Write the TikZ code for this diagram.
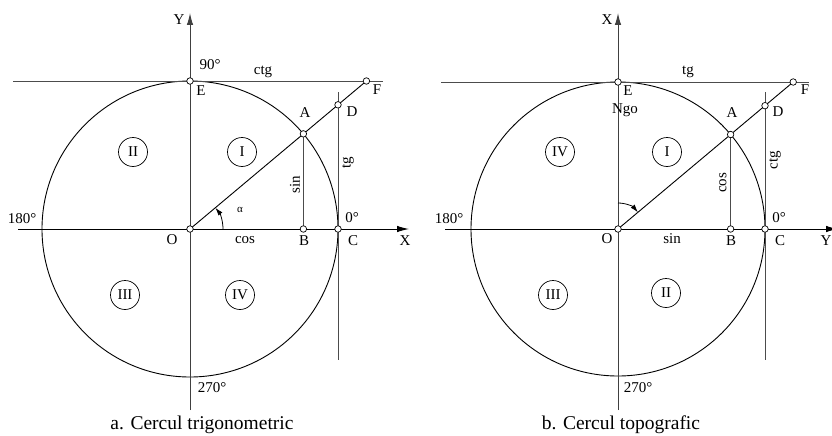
\documentclass[tikz,border=0pt]{standalone}
\usepackage{fontspec}
\setmainfont{Liberation Serif}
\usetikzlibrary{arrows.meta,calc}
\begin{document}
\begin{tikzpicture}[x=1pt,y=-1pt,
  lbl/.style={font=\fontsize{15}{15}\selectfont, inner sep=0pt},
  captxt/.style={font=\fontsize{19.5}{19.5}\selectfont, inner sep=0pt},
  quad/.style={draw, circle, minimum size=29pt, inner sep=0pt, font=\fontsize{15}{15}\selectfont, line width=0.7pt},
  pt/.style={draw, circle, fill=white, minimum size=6.5pt, inner sep=0pt, line width=0.7pt,
    path picture={\fill (path picture bounding box.center) circle (0.8pt);}},
  axis/.style={line width=1pt, -{Latex[length=12pt,width=6.5pt]}},
  gline/.style={line width=0.9pt, draw=black!70},
  bline/.style={line width=0.9pt, draw=black},
  arcarrow/.style={line width=0.8pt, -{Latex[length=8pt,width=5pt]}}
]
\useasboundingbox (0,0) rectangle (832,436);

% ================= left figure =================
\coordinate (O1) at (190,229);
\coordinate (A1) at ($(O1)+(-40:148)$);
\coordinate (B1) at (A1 |- O1);
\coordinate (C1) at (338,229);
\coordinate (D1) at (338,104.8);
\coordinate (E1) at (190,81);
\coordinate (F1) at (366.4,81);
\coordinate (TL1) at (13,81);
\coordinate (TR1) at (383,81);
\coordinate (XL1) at (18,229);
\coordinate (XR1) at (409,229);
\coordinate (YB1) at (190,410);
\coordinate (YT1) at (190,13);
\coordinate (TT1) at (338,92);
\coordinate (TB1) at (338,360);

\draw[bline] (O1) circle (148);
\draw[gline] (TL1) -- (TR1);
\draw[gline] (TT1) -- (TB1);
\draw[gline] (A1) -- (B1);
\draw[axis, draw=black!75] (YB1) -- (YT1);
\draw[axis] (XL1) -- (XR1);
\draw[bline] (O1) -- (F1);
\draw[arcarrow] ($(O1)+(33,0)$) arc (0:-40:33);

\foreach \p in {O1,A1,B1,C1,D1,E1,F1} \node[pt] (n\p) at (\p) {};

\node[lbl] (lY1) at (179,20) {Y};
\node[lbl] (l901) at (210,65) {90°};
\node[lbl] (lctg1) at (263,72) {ctg};
\node[lbl] (lE1) at (201,91) {E};
\node[lbl] (lA1) at (305,113) {A};
\node[lbl] (lD1) at (352,112) {D};
\node[lbl] (lF1) at (377,90) {F};
\node[quad] (q21) at (133,152) {II};
\node[quad] (q11) at (242,152) {I};
\node[lbl, rotate=90] (lsin1) at (295,185) {sin};
\node[lbl, rotate=90] (ltg1) at (348,163) {tg};
\node[font=\fontsize{11}{11}\selectfont, inner sep=0pt] (lal1) at (240,210) {α};
\node[lbl] (l01) at (352,218) {0°};
\node[lbl] (l1801) at (22,219) {180°};
\node[lbl] (lO1) at (172,240) {O};
\node[lbl] (lcos1) at (245,240) {cos};
\node[lbl] (lB1) at (304,241) {B};
\node[lbl] (lC1) at (353,241) {C};
\node[lbl] (lX1) at (405,241) {X};
\node[quad] (q31) at (125,295) {III};
\node[quad] (q41) at (240,295) {IV};
\node[lbl] (l2701) at (212,388) {270°};
\node[captxt] (cap1) at (202,425) {a. Cercul trigonometric};

% ================= right figure =================
\coordinate (O2) at (618,229);
\coordinate (A2) at ($(O2)+(-40:147)$);
\coordinate (B2) at (A2 |- O2);
\coordinate (C2) at (765,229);
\coordinate (D2) at (765,105.7);
\coordinate (E2) at (618,82);
\coordinate (F2) at (793.2,82);
\coordinate (TL2) at (441,82);
\coordinate (TR2) at (809,82);
\coordinate (XL2) at (445,229);
\coordinate (XR2) at (838,229);
\coordinate (YB2) at (618,410);
\coordinate (YT2) at (618,13);
\coordinate (TT2) at (765,92);
\coordinate (TB2) at (765,360);

\draw[bline] (O2) circle (147);
\draw[gline] (TL2) -- (TR2);
\draw[gline] (TT2) -- (TB2);
\draw[gline] (A2) -- (B2);
\draw[axis, draw=black!75] (YB2) -- (YT2);
\draw[axis] (XL2) -- (XR2);
\draw[bline] (O2) -- (F2);
\draw[arcarrow] ($(O2)+(0,-26)$) arc (-90:-40:26);

\foreach \p in {O2,A2,B2,C2,D2,E2,F2} \node[pt] (n\p) at (\p) {};

\node[lbl] (lX2) at (607,20) {X};
\node[lbl] (ltg2) at (688,72) {tg};
\node[lbl] (lE2) at (628,91) {E};
\node[lbl] (lN2) at (625,110) {Ngo};
\node[lbl] (lA2) at (732,113) {A};
\node[lbl] (lD2) at (778,112) {D};
\node[lbl] (lF2) at (805,90) {F};
\node[quad] (q42) at (560,152) {IV};
\node[quad] (q12) at (667,152) {I};
\node[lbl, rotate=90] (lcos2) at (723,183) {cos};
\node[lbl, rotate=90] (lctg2) at (775,160) {ctg};
\node[lbl] (l02) at (779,218) {0°};
\node[lbl] (l1802) at (449,219) {180°};
\node[lbl] (lO2) at (607,239) {O};
\node[lbl] (lsin2) at (672,239) {sin};
\node[lbl] (lB2) at (731,241) {B};
\node[lbl] (lC2) at (780,241) {C};
\node[lbl] (lY2) at (826,241) {Y};
\node[quad] (q32) at (553,295) {III};
\node[quad] (q22) at (666,293) {II};
\node[lbl] (l2702) at (638,388) {270°};
\node[captxt] (cap2) at (621,425) {b. Cercul topografic};
\end{tikzpicture}
\end{document}
